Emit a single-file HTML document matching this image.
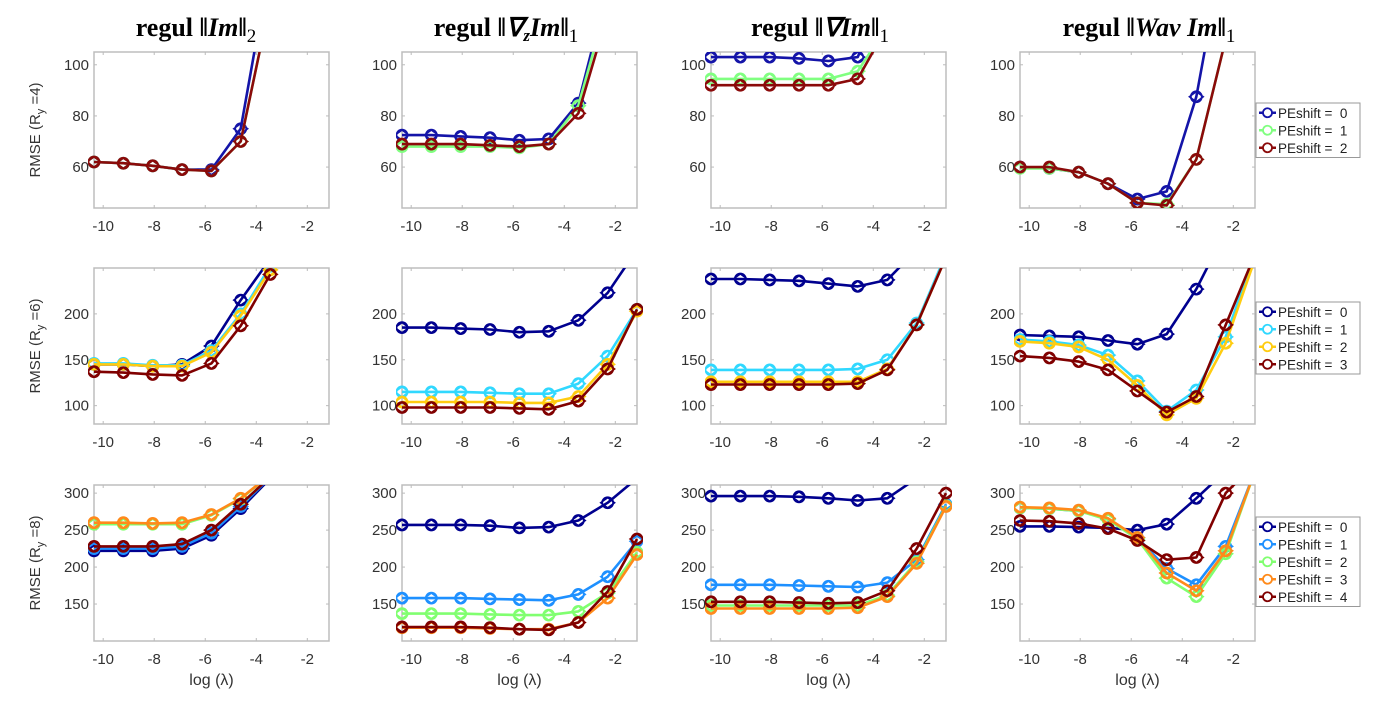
<!DOCTYPE html>
<html><head><meta charset="utf-8"><style>
html,body{margin:0;padding:0;background:#fff;}
svg{display:block;font-family:"Liberation Sans",sans-serif;}
</style></head><body>
<svg id="fig" width="1389" height="715" viewBox="0 0 1389 715" xmlns="http://www.w3.org/2000/svg"></svg>
<script>
const xVals = [-10.36,-9.21,-8.06,-6.91,-5.76,-4.61,-3.45,-2.30,-1.15];
const xTicks = [-10,-8,-6,-4,-2];
const yTicksR1 = [60,80,100];
const yTicksR2 = [100,150,200];
const yTicksR3 = [150,200,250,300];
const yLimR1 = [44,105];
const yLimR2 = [80,250];
const yLimR3 = [100,311];
const rowLabels = ["4","6","8"];
const legendR1 = ["PEshift =  0","PEshift =  1","PEshift =  2"];
const legendR2 = ["PEshift =  0","PEshift =  1","PEshift =  2","PEshift =  3"];
const legendR3 = ["PEshift =  0","PEshift =  1","PEshift =  2","PEshift =  3","PEshift =  4"];
// row 1 (3 series)
const r1c1 = [[62,61.5,60.5,59,59,75,140],[62,61.5,60.5,59,58.5,70,125],[62,61.5,60.5,59,58.5,70,125]];
const r1c2 = [[72.5,72.5,72,71.5,70.5,71,85,130],[68,68,68,68,67.5,69,84,125],[69,69,69,68.5,68,69,81,120]];
const r1c3 = [[103,103,103,102.5,101.5,103,130],[94.5,94.5,94.5,94.5,94.5,97.5,115],[92,92,92,92,92,94.5,115]];
const r1c4 = [[60,59.5,58,53.5,47.5,50.5,87.5,150],[59.5,59.5,58,53.5,46,45.5,63,110],[60,60,58,53.5,46,45,63,110]];
// row 2 (4 series)
const r2c1 = [[145,145,143,145,165,215,260],[146,146,144,144,160,200,252],[145,145,143,143,158,198,248],[137,136,134,133,146,187,243]];
const r2c2 = [[185,185,184,183,180,181,193,223,270],[115,115,115,114,113,113,124,154,205],[104,104,104,104,103,103,110,145,203],[98,98,98,98,97,96,105,140,205]];
const r2c3 = [[238,238,237,236,233,230,237,270],[139,139,139,139,139,140,150,190,265],[126,126,126,126,126,126,140,188,262],[123,123,123,123,123,124,139,188,262]];
const r2c4 = [[177,176,175,171,167,178,227,290],[172,170,166,155,127,94,117,175,265],[170,168,164,150,122,90,108,168,260],[154,152,148,139,116,93,110,188,265]];
// row 3 (5 series)
const r3c1 = [[222,222,222,225,243,279,320],[225,225,225,228,246,282,322],[258,258,258,258,270,292,325],[260,260,259,260,271,293,325],[228,228,228,231,250,285,322]];
const r3c2 = [[257,257,257,256,253,254,263,287,320],[158,158,158,157,156,155,163,187,235],[137,137,137,136,135,135,140,165,220],[118,118,118,117,116,116,125,158,217],[119,119,119,118,116,115,125,167,238]];
const r3c3 = [[296,296,296,295,293,290,293,320],[176,176,176,175,174,173,179,210,285],[148,148,148,148,148,148,162,207,283],[144,144,144,144,144,145,160,205,282],[153,153,153,152,151,152,168,225,300]];
const r3c4 = [[255,255,254,253,250,258,293,330],[280,279,276,265,240,198,176,228,330],[280,279,276,264,238,185,160,218,330],[281,280,277,266,240,192,168,222,330],[263,262,259,252,236,210,213,300,340]];

const colors3 = ["#1414a8","#80ff80","#8b0a0a"];
const colors4 = ["#00008f","#30d8ff","#ffcc10","#800000"];
const colors5 = ["#00008f","#1e90ff","#80ff70","#ff8a1a","#800000"];

const NS="http://www.w3.org/2000/svg";
const svg=document.getElementById('fig');
function mk(tag,attrs,parent){const e=document.createElementNS(NS,tag);for(const k in attrs)e.setAttribute(k,attrs[k]);(parent||svg).appendChild(e);return e;}

const colX=[94,402,711,1020], W=235;
const rowY=[52,268,485], H=156;
const xMin=-10.36, xMax=-1.15;
const rows=[
 {lim:yLimR1,ticks:yTicksR1,data:[r1c1,r1c2,r1c3,r1c4],colors:colors3,legend:legendR1,legY:103},
 {lim:yLimR2,ticks:yTicksR2,data:[r2c1,r2c2,r2c3,r2c4],colors:colors4,legend:legendR2,legY:302},
 {lim:yLimR3,ticks:yTicksR3,data:[r3c1,r3c2,r3c3,r3c4],colors:colors5,legend:legendR3,legY:517}
];
const defs=mk('defs',{});
// titles: parts [text, style, dy]
const titleSpecs=[
 {cx:196,parts:[["regul ","n",0],["‖","n",0],["Im","i",0],["‖","n",0],["2","s",6]]},
 {cx:506,parts:[["regul ","n",0],["‖","n",0],["∇","i",0],["z","sub",5],["Im","i",-5],["‖","n",0],["1","s",6]]},
 {cx:820,parts:[["regul ","n",0],["‖","n",0],["∇Im","i",0],["‖","n",0],["1","s",6]]},
 {cx:1149,parts:[["regul ","n",0],["‖","n",0],["Wav Im","i",0],["‖","n",0],["1","s",6]]}
];
titleSpecs.forEach((t,ci)=>{
  const tx=mk('text',{x:t.cx,y:36,'text-anchor':'middle','font-family':'"Liberation Serif",serif','font-weight':'bold','font-size':26,fill:'#000'});
  
  
  t.parts.forEach(p=>{
    const s=mk('tspan',{},tx);
    s.textContent=p[0];
    if(p[2])s.setAttribute('dy',String(p[2]));
    if(p[1]==='i')s.setAttribute('font-style','italic');
    if(p[1]==='s'){s.setAttribute('font-size','19');s.setAttribute('font-weight','normal');}
    if(p[1]==='sub'){s.setAttribute('font-size','17');s.setAttribute('font-style','italic');}
  });
});

rows.forEach((row,ri)=>{
  const y0=rowY[ri];
  const sy=v=>y0+H-(v-row.lim[0])/(row.lim[1]-row.lim[0])*H;
  const yl=mk('text',{x:0,y:0,transform:`translate(40,${y0+H/2}) rotate(-90)`,'text-anchor':'middle','font-size':15,fill:'#333'});
  
  
  yl.innerHTML=`RMSE (R<tspan font-size="11" dy="4">y</tspan><tspan dy="-4"> =${rowLabels[ri]})</tspan>`;
  colX.forEach((x0,ci)=>{
    const sx=v=>x0+(v-xMin)/(xMax-xMin)*W;
    const g=mk('g',{});
    
    
    const cid=`clip${ri}${ci}`;
    const cp=mk('clipPath',{id:cid},defs);
    mk('rect',{x:x0-6,y:y0,width:W+12,height:H},cp);
    const bg=mk('rect',{x:x0,y:y0,width:W,height:H,fill:'#fff',stroke:'#bdbdbd','stroke-width':1.5},g);
    
    
    xTicks.forEach(t=>{
      const X=sx(t);
      mk('line',{x1:X,x2:X,y1:y0+H,y2:y0+H-3,stroke:'#bbb'},g);
      mk('line',{x1:X,x2:X,y1:y0,y2:y0+3,stroke:'#bbb'},g);
      const lb=mk('text',{x:X,y:y0+H+23,'text-anchor':'middle','font-size':15,fill:'#333'},g);
      
      
      lb.textContent=String(t);
    });
    row.ticks.forEach(t=>{
      const Y=sy(t);
      mk('line',{x1:x0,x2:x0+3,y1:Y,y2:Y,stroke:'#bbb'},g);
      mk('line',{x1:x0+W,x2:x0+W-3,y1:Y,y2:Y,stroke:'#bbb'},g);
      const lb=mk('text',{x:x0-5,y:Y+5,'text-anchor':'end','font-size':15,fill:'#333'},g);
      
      
      lb.textContent=String(t);
    });
    const cg=mk('g',{'clip-path':`url(#${cid})`},g);
    row.data[ci].forEach((ser,si)=>{
      const col=row.colors[si];
      const pts=ser.map((v,i)=>sx(xVals[i]).toFixed(1)+','+sy(v).toFixed(1)).join(' ');
      const pl=mk('polyline',{points:pts,fill:'none',stroke:col,'stroke-width':2.6,'stroke-linejoin':'round'},cg);
      
      
      ser.forEach((v,i)=>{
        const X=sx(xVals[i]),Y=sy(v);
        if(Y<y0-2||Y>y0+H+2)return;
        const m=mk('circle',{cx:X,cy:Y,r:5.5,fill:'none',stroke:col,'stroke-width':1.8},cg);
        
        
        mk('path',{d:`M${X-7},${Y}L${X},${Y-5}L${X+7},${Y}L${X},${Y+5}Z`,fill:'none',stroke:col,'stroke-width':1.5},cg);
      });
    });
    if(ri===2){
      const xl=mk('text',{x:x0+W/2,y:y0+H+44,'text-anchor':'middle','font-size':16,fill:'#333'},g);
      
      
      xl.textContent='log (λ)';
    }
  });
  const n=row.legend.length, lh=17.5, lx=1256, ly=row.legY;
  const lg=mk('g',{});
  
  
  mk('rect',{x:lx,y:ly,width:104,height:n*lh+2,fill:'#fff',stroke:'#999','stroke-width':1},lg);
  row.legend.forEach((s,si)=>{
    const cy=ly+lh*si+lh/2+1, col=row.colors[si];
    const e=mk('g',{},lg);
    
    
    mk('line',{x1:lx+3,x2:lx+20,y1:cy,y2:cy,stroke:col,'stroke-width':2.4},e);
    mk('circle',{cx:lx+11.5,cy:cy,r:4.5,fill:'#fff',stroke:col,'stroke-width':1.8},e);
    const t=mk('text',{x:lx+22,y:cy+5,'font-size':13.5,fill:'#222'},e);
    t.textContent=s;
    t.style.whiteSpace='pre';
  });
});
</script>
</body></html>
